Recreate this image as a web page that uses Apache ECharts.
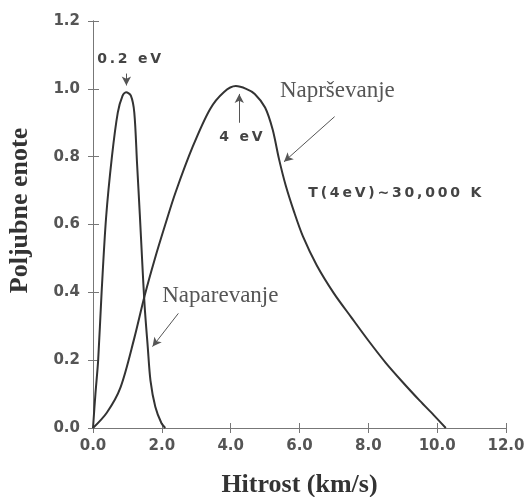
<!DOCTYPE html>
<html>
<head>
<meta charset="utf-8">
<script src="https://cdn.jsdelivr.net/npm/echarts@6/dist/echarts.min.js"></script>
<style>
  html, body { margin: 0; padding: 0; background: #fff; }
  #chart { width: 529px; height: 497px; }
</style>
</head>
<body>
<div id="chart"></div>
<script>
// Naparevanje (0.2 eV) - x: km/s, y: poljubne enote
var evapX = [0, 0.07, 0.15, 0.25, 0.38, 0.55, 0.72, 0.86, 0.96, 1.1, 1.2, 1.28, 1.36, 1.43, 1.5, 1.59, 1.67, 1.81, 1.99, 2.1];
var evapY = [0, 0.1, 0.2, 0.4, 0.62, 0.8, 0.93, 0.98, 0.99, 0.98, 0.93, 0.78, 0.63, 0.49, 0.36, 0.24, 0.14, 0.063, 0.014, 0];

// Naprševanje (4 eV)
var sputX = [0, 0.4, 0.8, 1.2, 1.5, 1.8, 2.1, 2.4, 2.9, 3.4, 3.8, 4.15, 4.45, 4.7, 5.0, 5.22, 5.4, 5.6, 5.85, 6.1, 6.5, 7.0, 7.5, 8.0, 8.5, 9.0, 9.5, 9.9, 10.25];
var sputY = [0, 0.045, 0.12, 0.265, 0.39, 0.5, 0.6, 0.695, 0.83, 0.94, 0.99, 1.008, 1.0, 0.985, 0.945, 0.88, 0.795, 0.715, 0.635, 0.565, 0.48, 0.397, 0.327, 0.258, 0.193, 0.135, 0.08, 0.038, 0];

// annotations: text and anchor in data units
var noteText = ['0.2 eV', '4 eV', 'Napr\u0161evanje', 'T(4eV)~30,000 K', 'Naparevanje'];
var noteAt = [[1.05, 1.088], [4.3, 0.856], [7.1, 0.994], [8.77, 0.693], [3.7, 0.39]];
// arrows: from -> to
var arrowFrom = [[0.97, 1.045], [4.25, 0.9], [7.02, 0.918], [2.48, 0.338]];
var arrowTo = [[0.97, 1.01], [4.25, 0.985], [5.55, 0.785], [1.73, 0.24]];

function pairs(xs, ys) {
    return xs.map(function(x, i) { return [x, ys[i]]; });
}
// old plot lettering is widely tracked
function spread(s) {
    return s.split('').join('\u2009');
}

var sansNote = { fontFamily: 'DejaVu Sans', fontWeight: 'bold', fontSize: 14, color: '#444' };
var serifNote = { fontFamily: 'Liberation Serif', fontSize: 23, color: '#555' };
var noteStyles = [sansNote, sansNote, serifNote, sansNote, serifNote];
var noteSpread = [true, true, false, true, false];

var myChart = echarts.init(document.getElementById('chart'));

var axisLine = { show: true, lineStyle: { color: '#777', width: 1 } };
var tickLabel = { fontFamily: 'DejaVu Sans', fontWeight: 'bold', fontSize: 15, color: '#555' };
var nameFont = { fontFamily: 'Liberation Serif', fontWeight: 'bold', fontSize: 26, color: '#333' };

var option = {
    animation: false,
    backgroundColor: '#fff',
    grid: { left: 93, right: 23, top: 21, bottom: 69, outerBoundsMode: 'none', containLabel: false },
    xAxis: [{
        type: 'value',
        min: 0, max: 12, interval: 2,
        name: 'Hitrost (km/s)',
        nameLocation: 'middle',
        nameGap: 44,
        nameTextStyle: nameFont,
        axisLine: axisLine,
        axisTick: { inside: true, length: 5, lineStyle: { color: '#777' } },
        axisLabel: Object.assign({ margin: 11, formatter: function(v) { return v.toFixed(1); } }, tickLabel),
        splitLine: { show: false }
    }, {
        type: 'value', position: 'top',
        min: 0, max: 12, interval: 2,
        axisLine: axisLine,
        axisTick: { inside: true, length: 5, lineStyle: { color: '#777' } },
        axisLabel: { show: false },
        splitLine: { show: false }
    }],
    yAxis: [{
        type: 'value',
        min: 0, max: 1.2, interval: 0.2,
        name: 'Poljubne enote',
        nameLocation: 'middle',
        nameGap: 60,
        nameRotate: 90,
        nameTextStyle: Object.assign({ padding: [0, 0, 0, 28] }, nameFont),
        axisLine: axisLine,
        axisTick: { inside: true, length: 6, lineStyle: { color: '#777' } },
        axisLabel: Object.assign({ margin: 13, formatter: function(v) { return v.toFixed(1); } }, tickLabel),
        splitLine: { show: false }
    }, {
        type: 'value', position: 'right',
        min: 0, max: 1.2, interval: 0.2,
        axisLine: axisLine,
        axisTick: { inside: true, length: 5, lineStyle: { color: '#777' } },
        axisLabel: { show: false },
        splitLine: { show: false }
    }],
    series: [{
        name: 'Naparevanje',
        type: 'line',
        smooth: 0.3,
        symbol: 'none',
        lineStyle: { color: '#333', width: 2 },
        data: pairs(evapX, evapY),
        markLine: {
            silent: true,
            symbol: ['none', 'arrow'],
            symbolSize: [7, 9],
            label: { show: false },
            lineStyle: { color: '#555', width: 1, type: 'solid' },
            data: arrowFrom.map(function(p, i) {
                return [{ coord: p }, { coord: arrowTo[i] }];
            })
        }
    }, {
        name: 'Napr\u0161evanje',
        type: 'line',
        smooth: 0.3,
        symbol: 'none',
        lineStyle: { color: '#333', width: 2 },
        data: pairs(sputX, sputY),
        markPoint: {
            silent: true,
            symbol: 'circle',
            symbolSize: 0,
            data: noteText.map(function(t, i) {
                return {
                    name: noteSpread[i] ? spread(t) : t,
                    coord: noteAt[i],
                    label: Object.assign({ show: true, position: 'inside', formatter: '{b}' }, noteStyles[i])
                };
            })
        }
    }]
};
myChart.setOption(option);
</script>
</body>
</html>
